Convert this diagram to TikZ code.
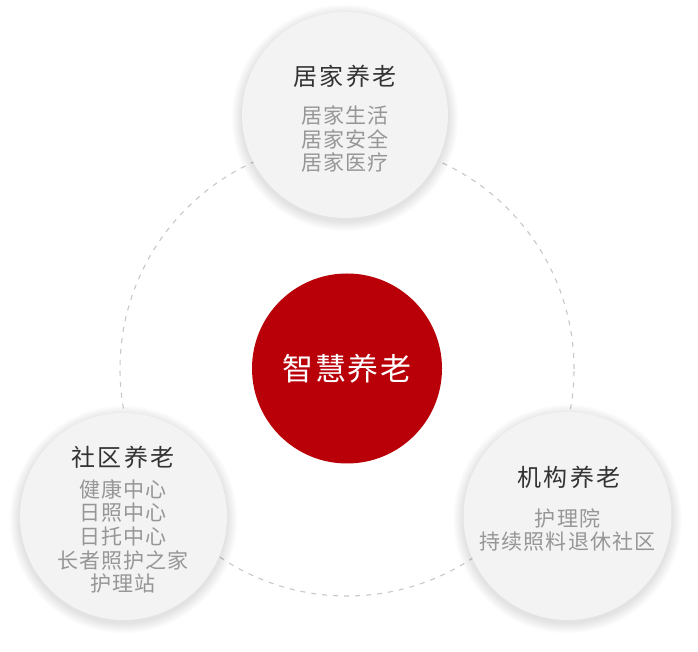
\documentclass[tikz,border=0pt]{standalone}
\usepackage{fontspec}
\setmainfont{Noto Sans CJK SC}
\newfontfamily\titlefont[LetterSpace=9]{Noto Sans CJK SC}
\newfontfamily\subfont[LetterSpace=5]{Noto Sans CJK SC}
\newfontfamily\corefont[LetterSpace=5]{Noto Sans CJK SC}
\definecolor{redc}{RGB}{185,0,8}
\definecolor{fillc}{RGB}{243,243,243}
\definecolor{titlec}{RGB}{51,51,51}
\definecolor{subc}{RGB}{150,150,150}
\definecolor{dashc}{RGB}{200,200,200}
\begin{document}
\begin{tikzpicture}[x=1pt,y=1pt,
  outercircle/.style={circle, fill=fillc, inner sep=0pt, minimum size=#1},
  softshadow/.style={fill=black, opacity=0.008},
  ring/.style={circle, draw=dashc, line width=1.1pt, dash pattern=on 5pt off 6pt, inner sep=0pt, minimum size=454pt},
  core/.style={circle, fill=redc, inner sep=0pt, minimum size=190pt},
  titletext/.style={text=titlec, font=\titlefont\fontsize{24}{28}\selectfont, inner sep=0pt},
  subtext/.style={text=subc, font=\subfont\fontsize{21}{23.7}\selectfont, align=center, inner sep=0pt},
  coretext/.style={text=white, font=\corefont\fontsize{31}{36}\selectfont, inner sep=0pt}]
\useasboundingbox (0,0) rectangle (698,652);
\fill[white] (0,0) rectangle (698,652);
\coordinate (homec) at (345,537);
\coordinate (commc) at (123.5,135.5);
\coordinate (instc) at (567.5,136);
\node[ring] (ring) at (347,283) {};
\foreach \i in {1,...,14}{
  \fill[softshadow] ([yshift=-3pt]homec) circle ({103+\i*0.75});
  \fill[softshadow] ([yshift=-3pt]commc) circle ({103.5+\i*0.75});
  \fill[softshadow] ([yshift=-3pt]instc) circle ({104+\i*0.75});
}
\node[outercircle=206pt] (home) at (homec) {};
\node[outercircle=207pt] (comm) at (commc) {};
\node[outercircle=208pt] (inst) at (instc) {};
\node[core] (core) at (347,283.5) {};
\node[coretext] (coret) at (347,283) {智慧养老};
\node[titletext] (homet) at (345,576) {居家养老};
\node[subtext] (homes) at (345,513) {居家生活\\居家安全\\居家医疗};
\node[titletext] (commt) at (123,194.5) {社区养老};
\node[subtext] (comms) at (123,115.5) {健康中心\\日照中心\\日托中心\\长者照护之家\\护理站};
\node[titletext] (instt) at (569,175) {机构养老};
\node[subtext] (insts) at (567.5,122) {护理院\\持续照料退休社区};
\end{tikzpicture}
\end{document}
